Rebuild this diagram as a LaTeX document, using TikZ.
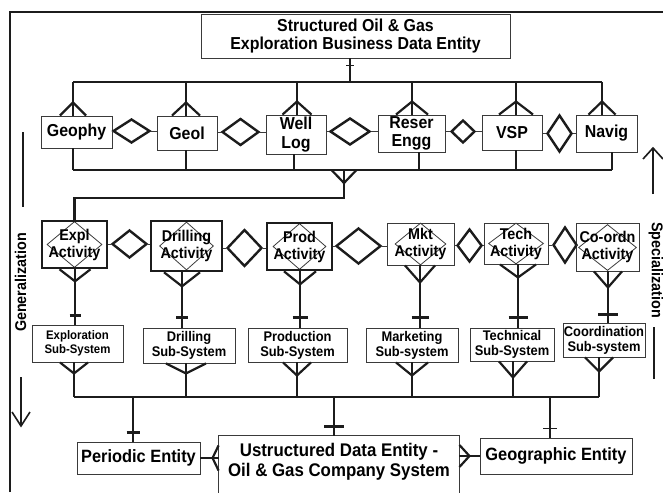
\documentclass[tikz,border=0pt]{standalone}
\usepackage{fontspec}
\setmainfont{Liberation Sans}[FakeStretch=0.92]
\usetikzlibrary{shapes.geometric}
\definecolor{ink}{HTML}{1C1C1C}
\definecolor{rim}{HTML}{3A3A3A}
% crow's foot on a horizontal edge: point, half spread, apex offset (downwards positive)
\newcommand{\crowfoot}[3]{\draw[conn] #1 ++(-#2,0) -- ++(#2,#3) -- ++(#2,{-(#3)});}
% crow's foot on a vertical edge: point, half spread, apex offset (rightwards positive)
\newcommand{\crowside}[3]{\draw[conn] #1 ++(0,-#2) -- ++(#3,#2) -- ++({-(#3)},#2);}
\begin{document}
\begin{tikzpicture}[x=1pt,y=-1pt,
  conn/.style={line width=2.2pt, draw=ink},
  fine/.style={line width=0.9pt, draw=rim},
  guide/.style={line width=1.6pt, draw=ink},
  box/.style={draw=rim, line width=0.9pt, inner sep=0pt, align=center,
    font=\bfseries\fontsize{17.3}{18.5}\selectfont},
  heavy/.style={box, draw=ink, line width=2.6pt},
  act/.style={font=\bfseries\fontsize{15.6}{17}\selectfont},
  sub/.style={box, font=\bfseries\fontsize{14}{15}\selectfont},
  rel/.style 2 args={diamond, draw=ink, line width=2.4pt, inner sep=0pt,
    minimum width=#1, minimum height=#2},
  inset/.style 2 args={diamond, draw=rim, line width=0.8pt, inner sep=0pt,
    minimum width=#1, minimum height=#2},
]
\useasboundingbox (0,0) rectangle (663,492);
\clip (0,0) rectangle (663,492);

% outer frame
\draw[line width=1.2pt, draw=ink] (10,492) -- (10,12) -- (663,12);

% root entity
\node[box, minimum width=309, minimum height=44] (top) at (355.5,36)
  {Structured Oil \& Gas\\Exploration Business Data Entity};

% first level entities
\node[box, minimum width=71, minimum height=32] (geophy) at (76.5,132) {Geophy};
\node[box, minimum width=60, minimum height=34] (geol) at (187,133) {Geol};
\node[box, minimum width=60, minimum height=39] (welllog) at (296,134.5) {Well\\Log};
\node[box, minimum width=67, minimum height=37] (reser) at (411.5,133.5) {Reser\\Engg};
\node[box, minimum width=60, minimum height=35] (vsp) at (512,132.5) {VSP};
\node[box, minimum width=61, minimum height=37] (navig) at (606.5,133.5) {Navig};

\node[rel={37}{24}] (r1) at (131.5,131) {};
\node[rel={37}{27}] (r2) at (240.5,132) {};
\node[rel={40}{27}] (r3) at (350,131.5) {};
\node[rel={24}{23}] (r4) at (463,131.5) {};
\node[rel={25}{37}] (r5) at (559.5,133.5) {};
\foreach \d/\l/\r in {r1/geophy/geol, r2/geol/welllog, r3/welllog/reser, r4/reser/vsp, r5/vsp/navig} {
  \draw[fine] (\d.west) -- (\d.west -| \l.east);
  \draw[fine] (\d.east) -- (\d.east -| \r.west);
}

% upper bus
\coordinate (busA) at (73,82);
\coordinate (busB) at (602,82);
\draw[conn] (busA) -- (busB);
\coordinate (k) at (350,0);
\draw[conn] (top.south -| k) -- (busA -| k);
\draw[line width=1.2pt, draw=ink] ([yshift=-7pt]top.south -| k) ++(-4,0) -- ++(8,0);
\foreach \n/\x/\w in {geophy/73/13, geol/186/14, welllog/297/14.5, reser/412/16, vsp/516/17, navig/602/13.5} {
  \coordinate (k) at (\x,0);
  \draw[conn] (busA -| k) -- (\n.north -| k);
  \crowfoot{(\n.north -| k)}{\w}{-13}
}

% lower bus of the first level
\coordinate (busC) at (73,170);
\coordinate (busD) at (612,170);
\draw[conn] (busC) -- (busD);
\foreach \n/\x in {geophy/73, geol/186, welllog/294, reser/419, vsp/516, navig/612} {
  \coordinate (k) at (\x,0);
  \draw[conn] (\n.south -| k) -- (busC -| k);
}
\coordinate (split) at (344,170);
\coordinate (elbow) at (344,198);
\crowfoot{(split)}{12.5}{13}

% activities
\node[inset={55}{46}] (expl-d) at (74.5,244.5) {};
\node[heavy, act, minimum width=65, minimum height=47] (expl) at (74.5,244.5) {Expl\\Activity};
\node[inset={54}{48}] (drill-d) at (186.5,246) {};
\node[heavy, act, minimum width=71, minimum height=50] (drill) at (186.5,246) {Drilling\\Activity};
\node[inset={53}{46}] (prod-d) at (299.5,246.5) {};
\node[heavy, act, minimum width=65, minimum height=47] (prod) at (299.5,246.5) {Prod\\Activity};
\node[inset={51}{42}] (mkt-d) at (420.5,244) {};
\node[box, act, minimum width=67, minimum height=42] (mkt) at (420.5,244) {Mkt\\Activity};
\node[inset={55}{41}] (tech-d) at (516,243.5) {};
\node[box, act, minimum width=64, minimum height=41] (tech) at (516,243.5) {Tech\\Activity};
\node[inset={58}{46}] (coord-d) at (607.5,247.5) {};
\node[box, act, minimum width=63, minimum height=48] (coord) at (607.5,247) {Co-ordn\\Activity};

\draw[conn] (split) -- (elbow) -| (expl.north);

\node[rel={35}{28}] (a1) at (129.5,244) {};
\node[rel={35}{37}] (a2) at (244.5,248) {};
\node[rel={45}{36}] (a3) at (358.5,246) {};
\node[rel={25}{33}] (a4) at (469.5,245.5) {};
\node[rel={24}{36}] (a5) at (565,245) {};
\foreach \d/\l/\r in {a1/expl/drill, a2/drill/prod, a3/prod/mkt, a4/mkt/tech, a5/tech/coord} {
  \draw[fine] (\d.west) -- (\d.west -| \l.east);
  \draw[fine] (\d.east) -- (\d.east -| \r.west);
}

% sub-systems
\node[sub, font=\bfseries\fontsize{12.4}{13.5}\selectfont, minimum width=91, minimum height=37] (explsub) at (77.5,343.5) {Exploration\\Sub-System};
\node[sub, minimum width=92, minimum height=35] (drillsub) at (189,345.5) {Drilling\\Sub-System};
\node[sub, minimum width=99, minimum height=34] (prodsub) at (297.5,345) {Production\\Sub-System};
\node[sub, minimum width=92, minimum height=34] (mktsub) at (412,345) {Marketing\\Sub-system};
\node[sub, minimum width=84, minimum height=33] (techsub) at (512,344.5) {Technical\\Sub-System};
\node[sub, minimum width=82, minimum height=34] (coordsub) at (604,340) {Coordination\\Sub-system};

\foreach \a/\s/\x/\w/\h/\t/\g in {expl/explsub/75/15.5/12/5.5/9, drill/drillsub/182/18/14/6/10,
    prod/prodsub/300/16/13/7.5/10, mkt/mktsub/420/15/17/8.5/10,
    tech/techsub/518/18/13/9.5/10, coord/coordsub/608/14/16/10/8} {
  \coordinate (k) at (\x,0);
  \draw[conn] (\a.south -| k) -- (\s.north -| k);
  \crowfoot{(\a.south -| k)}{\w}{\h}
  \draw[conn] ([yshift=\g pt]\s.north -| k) ++(-\t,0) -- ++(2*\t,0);
}

% lower bus of the sub-systems
\coordinate (busE) at (74,397);
\coordinate (busF) at (599,397);
\draw[conn] (busE) -- (busF);
\foreach \s/\x/\w/\h in {explsub/74/14/11, drillsub/186/20/10, prodsub/297/14/13,
    mktsub/412/16/13, techsub/513/14/16, coordsub/599/14/14} {
  \coordinate (k) at (\x,0);
  \draw[conn] (\s.south -| k) -- (busE -| k);
  \crowfoot{(\s.south -| k)}{\w}{\h}
}

% bottom entities
\node[box, font=\bfseries\fontsize{17.8}{19}\selectfont, minimum width=123, minimum height=32] (periodic) at (138.5,458) {Periodic Entity};
\node[box, draw=none, font=\bfseries\fontsize{18.3}{20}\selectfont, minimum width=240, minimum height=52] (ustr) at (339,462)
  {Ustructured Data Entity -\\Oil \& Gas Company System};
\draw[fine] ([yshift=-40pt]ustr.south west) -- (ustr.north west) -- (ustr.north east) -- ([yshift=-40pt]ustr.south east);
\node[box, font=\bfseries\fontsize{17.8}{19}\selectfont, minimum width=152, minimum height=36] (geo) at (556,456) {Geographic Entity};

\foreach \n/\x/\t in {periodic/133/6.5, ustr/334/10} {
  \coordinate (k) at (\x,0);
  \draw[conn] (busE -| k) -- (\n.north -| k);
  \draw[conn] ([yshift=9pt]\n.north -| k) ++(-\t,0) -- ++(2*\t,0);
}
\coordinate (k) at (550,0);
\draw[conn] (busE -| k) -- (geo.north -| k);
\draw[line width=1.2pt, draw=ink] ([yshift=9pt]geo.north -| k) ++(-7,0) -- ++(14,0);

\draw[conn] (periodic.east) -- (periodic.east -| ustr.west);
\crowside{(periodic.east -| ustr.west)}{12.5}{-6}
\draw[conn] (geo.west) -- (geo.west -| ustr.east);
\crowside{(geo.west -| ustr.east)}{11}{10}

% direction labels
\node[rotate=90, font=\bfseries\fontsize{15.6}{17}\selectfont] (gen) at (20.5,282.5) {Generalization};
\draw[guide] (23,132) -- (23,207);
\draw[guide] (21,377) -- (21,426);
\draw[guide] (12,412) -- (21,426) -- (30,412);
\node[rotate=-90, font=\bfseries\fontsize{15.6}{17}\selectfont] (spec) at (656,270) {Specialization};
\draw[guide] (653,194) -- (653,148);
\draw[guide] (643,159) -- (653,148) -- (663,159);
\draw[guide] (654,327) -- (654,379);
\end{tikzpicture}
\end{document}
